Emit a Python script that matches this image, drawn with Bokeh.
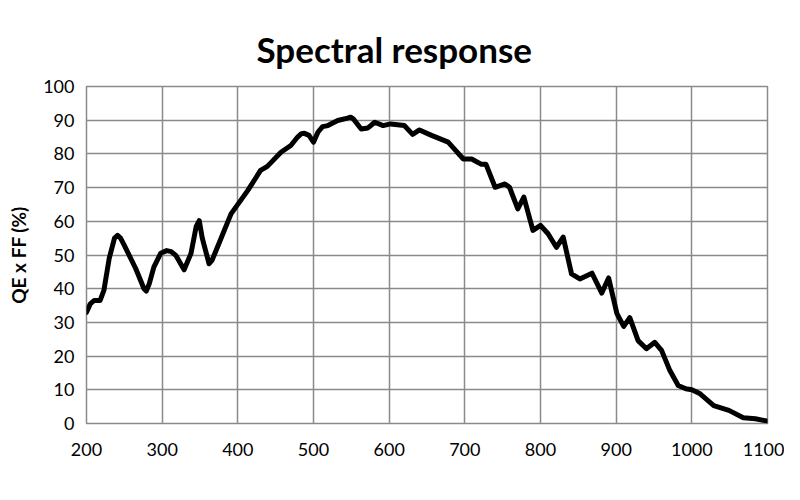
from bokeh.plotting import figure
from bokeh.embed import file_html
from bokeh.resources import INLINE
from bokeh.models import FixedTicker, Range1d

wavelength = [200, 205, 210, 218, 223, 230, 237, 241, 245, 249, 265, 276, 279, 283, 289, 298, 306, 312,
              318, 329, 338, 345, 349, 353, 362, 366, 373,
              391, 413, 430, 439, 457, 470, 479, 484, 488, 494, 500, 506, 512, 519, 532, 545, 549, 553,
              563, 572, 581, 592, 602, 620, 631, 640, 656, 678, 686, 698, 709, 722, 728, 740, 753, 759,
              770, 778, 790, 800, 810, 821, 830, 841, 852, 868, 881, 890, 901, 910, 918, 929, 940,
              951, 960, 971, 982, 992, 1000, 1011, 1029, 1049, 1068, 1084, 1100]
qe = [33.0, 35.5, 36.5, 36.5, 39.5, 49.0, 55.0, 55.8, 55.0, 53.3, 46.0, 40.0, 39.3, 41.5, 46.4, 50.5, 51.3, 51.0,
      49.9, 45.6, 50.4, 58.5, 60.2, 55.0, 47.4, 48.5, 52.3,
      62.2, 69.1, 75.1, 76.3, 80.5, 82.5, 85.0, 86.0, 86.1, 85.5, 83.5, 86.5, 88.1, 88.4, 89.9, 90.6, 90.9, 90.3,
      87.4, 87.7, 89.4, 88.4, 88.9, 88.4, 85.8, 87.1, 85.5, 83.5, 81.5, 78.5, 78.5, 76.9, 76.9, 70.1, 71.1, 70.1,
      63.7, 67.2, 57.3, 58.8, 56.3, 52.3, 55.3, 44.4, 42.9, 44.6, 38.7, 43.2, 32.6, 28.8, 31.4, 24.6, 22.2,
      24.1, 21.7, 15.7, 11.3, 10.3, 10.0, 8.8, 5.3, 3.9, 1.7, 1.4, 0.7]

x_ticks = [200, 300, 400, 500, 600, 700, 800, 900, 1000, 1100]
y_ticks = [0, 10, 20, 30, 40, 50, 60, 70, 80, 90, 100]

p = figure(width=784, height=484, output_backend="svg", toolbar_location=None,
           x_range=Range1d(200, 1100), y_range=Range1d(0, 100),
           min_border_left=86, min_border_right=17, min_border_top=86, min_border_bottom=61)

p.title.text = "Spectral response"
p.title.align = "left"
p.title.text_font = "Lato"
p.title.text_font_style = "bold"
p.title.text_font_size = "35px"
p.title.text_color = "#000000"
p.title.standoff = 34
p.title.offset = 170

p.line(wavelength, qe, line_color="black", line_width=5, line_join="round", line_cap="round")

p.xaxis.ticker = FixedTicker(ticks=x_ticks)
p.yaxis.ticker = FixedTicker(ticks=y_ticks)
for ax in (p.xaxis[0], p.yaxis[0]):
    ax.axis_line_color = None
    ax.major_tick_line_color = None
    ax.minor_tick_line_color = None
    ax.major_label_text_font = "Lato"
    ax.major_label_text_font_size = "18px"
    ax.major_label_text_color = "#000000"
p.xaxis.major_label_standoff = 13
p.yaxis.major_label_standoff = 6
p.yaxis.axis_label = "QE x FF (%)"
p.yaxis.axis_label_standoff = 10
p.yaxis.axis_label_text_font = "Lato"
p.yaxis.axis_label_text_font_style = "bold"
p.yaxis.axis_label_text_font_size = "19px"
p.yaxis.axis_label_text_color = "#000000"

p.grid.grid_line_color = "#8a8a8a"
p.grid.grid_line_width = 1.5
p.xgrid.ticker = FixedTicker(ticks=x_ticks)
p.ygrid.ticker = FixedTicker(ticks=y_ticks)
p.outline_line_color = "#8a8a8a"
p.outline_line_width = 1.5

open("out.html", "w").write(file_html(p, INLINE))
